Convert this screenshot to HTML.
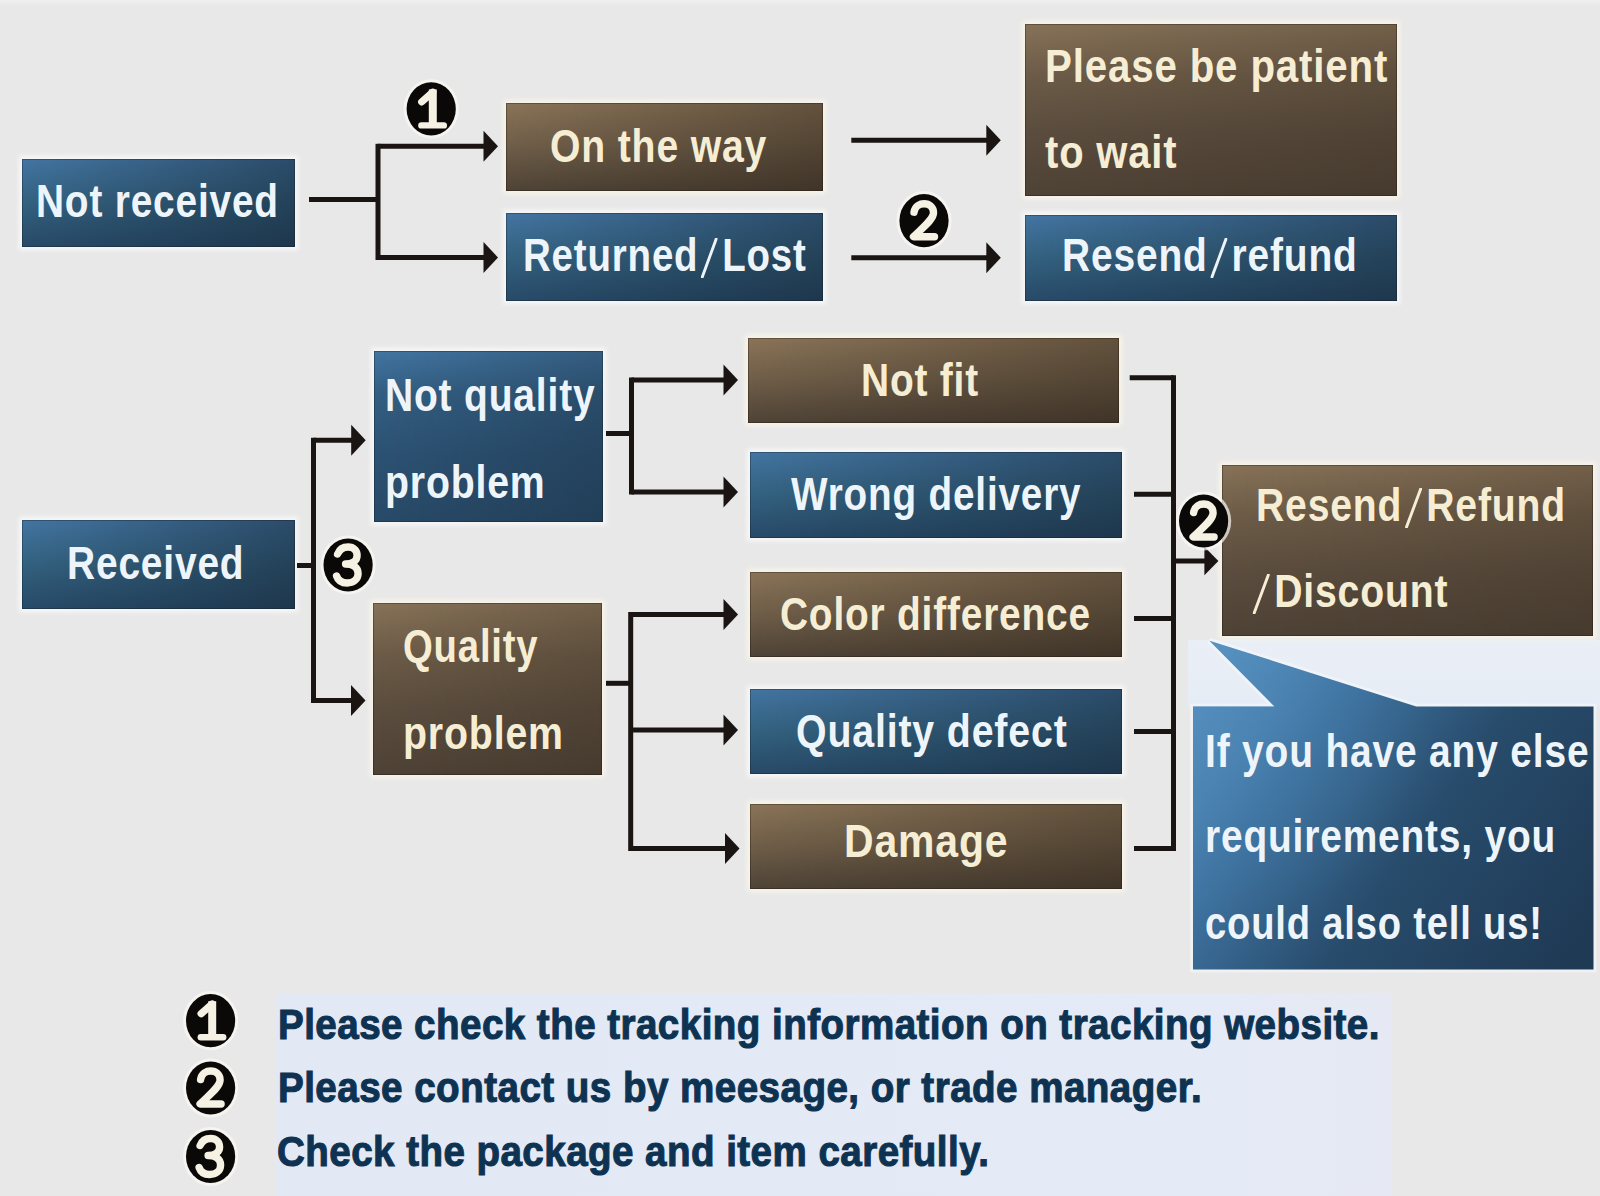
<!DOCTYPE html>
<html><head><meta charset="utf-8"><style>
html,body{margin:0;padding:0;}
body{width:1600px;height:1196px;position:relative;overflow:hidden;background:#e8e8e8;font-family:"Liberation Sans",sans-serif;}
.bx{position:absolute;box-sizing:border-box;}
.bt{background:linear-gradient(90deg,rgba(20,35,50,0),rgba(20,35,50,.3)),linear-gradient(180deg,#4275a2 0,#335e82 25%,#2c5273 60%,#284a68 100%) !important;}
.rt{background:linear-gradient(90deg,rgba(40,30,20,0),rgba(40,30,20,.22)),linear-gradient(180deg,#877258 0,#6c5b47 30%,#5b4d3e 62%,#4e4236 100%) !important;}
.b{background:linear-gradient(90deg,rgba(20,35,50,0),rgba(20,35,50,.5)),linear-gradient(180deg,#4375a2 0,#33617f 50%,#274a68 100%);box-shadow:inset 0 0 0 1px rgba(15,25,35,.35),0 0 5px 3px rgba(255,255,255,.7);}
.r{background:linear-gradient(90deg,rgba(40,30,20,0),rgba(40,30,20,.4)),linear-gradient(180deg,#8a7458 0,#6e5d48 50%,#4e4336 100%);box-shadow:inset 0 0 0 1px rgba(30,20,10,.35),0 0 5px 3px rgba(255,250,235,.7);}
.t{position:absolute;white-space:pre;font-weight:bold;line-height:1;transform-origin:0 0;}
.n{-webkit-text-stroke:1.1px #0e3352;}
svg.sl{display:inline-block;position:static;vertical-align:-7px;}
svg{position:absolute;left:0;top:0;}
</style></head><body>

<div class="bx" style="left:0;top:0;width:1600px;height:6px;background:linear-gradient(180deg,#f0f0f0,#e8e8e8);"></div>
<div class="bx" style="left:275px;top:993px;width:1117px;height:203px;background:linear-gradient(90deg,#e2e9f5,#e4eaf6 85%,#e6e9f3);"></div>
<div class="bx" style="left:1188px;top:640px;width:412px;height:67px;background:linear-gradient(180deg,#eaeff7,#e6ecf5);"></div>
<div class="bx b" style="left:22.0px;top:159.0px;width:273.0px;height:88.0px;"></div>
<div class="bx r" style="left:506.0px;top:102.5px;width:317.0px;height:88.5px;"></div>
<div class="bx b" style="left:506.0px;top:212.5px;width:317.0px;height:88.5px;"></div>
<div class="bx r rt" style="left:1024.5px;top:24.0px;width:372.0px;height:172.0px;"></div>
<div class="bx b" style="left:1024.5px;top:214.5px;width:372.0px;height:86.3px;"></div>
<div class="bx b bt" style="left:373.5px;top:350.5px;width:229.0px;height:171.8px;"></div>
<div class="bx b" style="left:22.0px;top:520.0px;width:273.0px;height:89.0px;"></div>
<div class="bx r rt" style="left:373.3px;top:602.5px;width:229.1px;height:172.0px;"></div>
<div class="bx r" style="left:747.5px;top:337.5px;width:371.5px;height:85.5px;"></div>
<div class="bx b" style="left:749.5px;top:451.5px;width:372.3px;height:86.1px;"></div>
<div class="bx r" style="left:749.5px;top:572.2px;width:372.3px;height:84.8px;"></div>
<div class="bx b" style="left:749.5px;top:688.7px;width:372.3px;height:85.6px;"></div>
<div class="bx r" style="left:749.5px;top:803.6px;width:372.3px;height:85.4px;"></div>
<div class="bx r rt" style="left:1221.5px;top:465.0px;width:371.1px;height:171.0px;"></div>
<svg width="1600" height="1196" viewBox="0 0 1600 1196"><defs><linearGradient id="bg1" gradientUnits="userSpaceOnUse" x1="1200" y1="640" x2="1593" y2="920"><stop offset="0" stop-color="#62a0d0"/><stop offset="0.3" stop-color="#3f74a2"/><stop offset="0.6" stop-color="#284c6c"/><stop offset="1" stop-color="#1f3a55"/></linearGradient><radialGradient id="bg2" gradientUnits="userSpaceOnUse" cx="1205" cy="700" r="230"><stop offset="0" stop-color="#4f88b8" stop-opacity=".6"/><stop offset="0.45" stop-color="#4a82b0" stop-opacity=".25"/><stop offset="1" stop-color="#4a82b0" stop-opacity="0"/></radialGradient></defs><path d="M1209.4 640.7 L1274.5 706.5 L1193 706.5 L1193 969.5 L1593.5 969.5 L1593.5 706.5 L1416.2 706.5 Z" fill="#fbfdff" opacity=".6" transform="translate(0 0)" stroke="#f6f8fb" stroke-width="6" stroke-linejoin="miter"/><path d="M1209.4 640.7 L1274.5 706.5 L1193 706.5 L1193 969.5 L1593.5 969.5 L1593.5 706.5 L1416.2 706.5 Z" fill="url(#bg1)"/><path d="M1209.4 640.7 L1274.5 706.5 L1193 706.5 L1193 969.5 L1593.5 969.5 L1593.5 706.5 L1416.2 706.5 Z" fill="url(#bg2)"/></svg>
<div class="t" style="left:36.00px;top:177.21px;font-size:47px;color:#eef5fa;letter-spacing:1.0px;transform:scaleX(0.8259);">Not received</div>
<div class="t" style="left:549.50px;top:121.61px;font-size:47px;color:#f6eed4;letter-spacing:1.0px;transform:scaleX(0.8331);">On the way</div>
<div class="t" style="left:522.70px;top:230.51px;font-size:47px;color:#eef5fa;letter-spacing:1.0px;transform:scaleX(0.8186);">Returned<svg class="sl" width="21" height="40" viewBox="0 0 21 40" style="margin-left:3px;margin-right:5px"><line x1="2" y1="39" x2="19" y2="1" stroke="currentColor" stroke-width="3.4" stroke-linecap="round"/></svg>Lost</div>
<div class="t" style="left:1045.40px;top:41.91px;font-size:47px;color:#f6eed4;letter-spacing:1.0px;transform:scaleX(0.8560);">Please be patient</div>
<div class="t" style="left:1045.00px;top:128.01px;font-size:47px;color:#f6eed4;letter-spacing:1.0px;transform:scaleX(0.8500);">to wait</div>
<div class="t" style="left:1062.00px;top:231.11px;font-size:47px;color:#eef5fa;letter-spacing:1.0px;transform:scaleX(0.8283);">Resend<svg class="sl" width="21" height="40" viewBox="0 0 21 40" style="margin-left:3px;margin-right:5px"><line x1="2" y1="39" x2="19" y2="1" stroke="currentColor" stroke-width="3.4" stroke-linecap="round"/></svg>refund</div>
<div class="t" style="left:384.60px;top:371.01px;font-size:47px;color:#eef5fa;letter-spacing:1.0px;transform:scaleX(0.8292);">Not quality</div>
<div class="t" style="left:384.60px;top:457.51px;font-size:47px;color:#eef5fa;letter-spacing:1.0px;transform:scaleX(0.8346);">problem</div>
<div class="t" style="left:66.50px;top:539.21px;font-size:47px;color:#eef5fa;letter-spacing:1.0px;transform:scaleX(0.8277);">Received</div>
<div class="t" style="left:402.60px;top:622.41px;font-size:47px;color:#f6eed4;letter-spacing:1.0px;transform:scaleX(0.8145);">Quality</div>
<div class="t" style="left:403.30px;top:709.01px;font-size:47px;color:#f6eed4;letter-spacing:1.0px;transform:scaleX(0.8361);">problem</div>
<div class="t" style="left:861.40px;top:355.91px;font-size:47px;color:#f6eed4;letter-spacing:1.0px;transform:scaleX(0.8268);">Not fit</div>
<div class="t" style="left:791.00px;top:469.61px;font-size:47px;color:#eef5fa;letter-spacing:1.0px;transform:scaleX(0.8236);">Wrong delivery</div>
<div class="t" style="left:779.50px;top:590.21px;font-size:47px;color:#f6eed4;letter-spacing:1.0px;transform:scaleX(0.8259);">Color difference</div>
<div class="t" style="left:795.50px;top:706.61px;font-size:47px;color:#eef5fa;letter-spacing:1.0px;transform:scaleX(0.8361);">Quality defect</div>
<div class="t" style="left:843.60px;top:817.21px;font-size:47px;color:#f6eed4;letter-spacing:1.0px;transform:scaleX(0.8707);">Damage</div>
<div class="t" style="left:1256.00px;top:481.11px;font-size:47px;color:#f6eed4;letter-spacing:1.0px;transform:scaleX(0.8316);">Resend<svg class="sl" width="21" height="40" viewBox="0 0 21 40" style="margin-left:3px;margin-right:5px"><line x1="2" y1="39" x2="19" y2="1" stroke="currentColor" stroke-width="3.4" stroke-linecap="round"/></svg>Refund</div>
<div class="t" style="left:1249.67px;top:567.21px;font-size:47px;color:#f6eed4;letter-spacing:1.0px;transform:scaleX(0.8333);"><svg class="sl" width="21" height="40" viewBox="0 0 21 40" style="margin-left:3px;margin-right:5px"><line x1="2" y1="39" x2="19" y2="1" stroke="currentColor" stroke-width="3.4" stroke-linecap="round"/></svg>Discount</div>
<div class="t" style="left:1204.50px;top:726.51px;font-size:47px;color:#eef5fa;letter-spacing:1.0px;transform:scaleX(0.8283);">If you have any else</div>
<div class="t" style="left:1205.00px;top:812.01px;font-size:47px;color:#eef5fa;letter-spacing:1.0px;transform:scaleX(0.8274);">requirements, you</div>
<div class="t" style="left:1205.00px;top:898.71px;font-size:47px;color:#eef5fa;letter-spacing:1.0px;transform:scaleX(0.8120);">could also tell us!</div>
<div class="t n" style="left:277.80px;top:1003.10px;font-size:43px;color:#0e3352;letter-spacing:0.5px;transform:scaleX(0.8969);">Please check the tracking information on tracking website.</div>
<div class="t n" style="left:278.00px;top:1066.10px;font-size:43px;color:#0e3352;letter-spacing:0.5px;transform:scaleX(0.8976);">Please contact us by meesage, or trade manager.</div>
<div class="t n" style="left:277.00px;top:1129.60px;font-size:43px;color:#0e3352;letter-spacing:0.5px;transform:scaleX(0.8967);">Check the package and item carefully.</div>
<svg width="1600" height="1196" viewBox="0 0 1600 1196"><line x1="309.0" y1="199.5" x2="378.0" y2="199.5" stroke="#1a1512" stroke-width="5"/><line x1="378.0" y1="143.8" x2="378.0" y2="260.0" stroke="#1a1512" stroke-width="5"/><line x1="378.0" y1="146.3" x2="484.5" y2="146.3" stroke="#1a1512" stroke-width="5"/><polygon points="483.5,130.8 498.0,146.3 483.5,161.8" fill="#1a1512"/><line x1="378.0" y1="257.5" x2="484.5" y2="257.5" stroke="#1a1512" stroke-width="5"/><polygon points="483.5,242.0 498.0,257.5 483.5,273.0" fill="#1a1512"/><line x1="851.3" y1="140.2" x2="987.3" y2="140.2" stroke="#1a1512" stroke-width="5"/><polygon points="986.3,124.7 1000.8,140.2 986.3,155.7" fill="#1a1512"/><line x1="851.3" y1="257.7" x2="987.3" y2="257.7" stroke="#1a1512" stroke-width="5"/><polygon points="986.3,242.2 1000.8,257.7 986.3,273.2" fill="#1a1512"/><line x1="297.0" y1="565.5" x2="313.5" y2="565.5" stroke="#1a1512" stroke-width="5"/><line x1="313.5" y1="437.8" x2="313.5" y2="703.1" stroke="#1a1512" stroke-width="5"/><line x1="313.5" y1="440.3" x2="352.2" y2="440.3" stroke="#1a1512" stroke-width="5"/><polygon points="351.2,424.8 365.7,440.3 351.2,455.8" fill="#1a1512"/><line x1="313.5" y1="700.6" x2="352.0" y2="700.6" stroke="#1a1512" stroke-width="5"/><polygon points="351.0,685.1 365.5,700.6 351.0,716.1" fill="#1a1512"/><line x1="606.0" y1="433.5" x2="631.5" y2="433.5" stroke="#1a1512" stroke-width="5"/><line x1="631.5" y1="377.5" x2="631.5" y2="494.5" stroke="#1a1512" stroke-width="5"/><line x1="631.5" y1="380.0" x2="724.5" y2="380.0" stroke="#1a1512" stroke-width="5"/><polygon points="723.5,364.5 738.0,380.0 723.5,395.5" fill="#1a1512"/><line x1="631.5" y1="492.0" x2="724.5" y2="492.0" stroke="#1a1512" stroke-width="5"/><polygon points="723.5,476.5 738.0,492.0 723.5,507.5" fill="#1a1512"/><line x1="606.0" y1="683.3" x2="630.7" y2="683.3" stroke="#1a1512" stroke-width="5"/><line x1="630.7" y1="612.1" x2="630.7" y2="850.9" stroke="#1a1512" stroke-width="5"/><line x1="630.7" y1="614.6" x2="724.5" y2="614.6" stroke="#1a1512" stroke-width="5"/><polygon points="723.5,599.1 738.0,614.6 723.5,630.1" fill="#1a1512"/><line x1="630.7" y1="730.0" x2="724.5" y2="730.0" stroke="#1a1512" stroke-width="5"/><polygon points="723.5,714.5 738.0,730.0 723.5,745.5" fill="#1a1512"/><line x1="630.7" y1="848.4" x2="726.0" y2="848.4" stroke="#1a1512" stroke-width="5"/><polygon points="725.0,832.9 739.5,848.4 725.0,863.9" fill="#1a1512"/><line x1="1129.7" y1="377.7" x2="1173.5" y2="377.7" stroke="#1a1512" stroke-width="5"/><line x1="1134.0" y1="494.2" x2="1173.5" y2="494.2" stroke="#1a1512" stroke-width="5"/><line x1="1134.0" y1="618.5" x2="1173.5" y2="618.5" stroke="#1a1512" stroke-width="5"/><line x1="1134.0" y1="731.5" x2="1173.5" y2="731.5" stroke="#1a1512" stroke-width="5"/><line x1="1134.0" y1="848.4" x2="1173.5" y2="848.4" stroke="#1a1512" stroke-width="5"/><line x1="1173.5" y1="375.2" x2="1173.5" y2="850.9" stroke="#1a1512" stroke-width="5"/><line x1="1173.5" y1="561.0" x2="1205.4" y2="561.0" stroke="#1a1512" stroke-width="5"/><polygon points="1204.4,546.8 1218.4,561.0 1204.4,575.2" fill="#1a1512"/><ellipse cx="431.2" cy="108.9" rx="27.6" ry="29.6" fill="#fbfaf4" opacity=".7"/><ellipse cx="431.2" cy="108.9" rx="24.6" ry="26.6" fill="#0b0908"/><g transform="translate(400.20 78.40)" stroke="#f5f1e3"><path d="M21.5 23.5 L32.5 13.8" stroke-width="7.2" stroke-linecap="round" fill="none"/><path d="M32.6 11 L32.6 46" stroke-width="8" fill="none"/><path d="M21.2 47 L43.6 47" stroke-width="6.4" stroke-linecap="round" fill="none"/></g><ellipse cx="924.0" cy="220.7" rx="27.6" ry="29.6" fill="#fbfaf4" opacity=".7"/><ellipse cx="924.0" cy="220.7" rx="24.6" ry="26.6" fill="#0b0908"/><g transform="translate(893.00 190.20)" stroke="#f5f1e3"><path d="M21 22 C22 15.5 27.5 13.5 31 13.5 C36.5 13.5 40.5 17 40.5 22.5 C40.5 28.5 33 34.5 20.5 46.5 L41.5 46.5" stroke-width="7.4" stroke-linecap="round" stroke-linejoin="round" fill="none"/></g><ellipse cx="348.1" cy="565.0" rx="27.6" ry="29.6" fill="#fbfaf4" opacity=".7"/><ellipse cx="348.1" cy="565.0" rx="24.6" ry="26.6" fill="#0b0908"/><g transform="translate(317.10 534.50)" stroke="#f5f1e3"><path d="M20.5 19.5 C22.5 14.5 27 12.5 31 12.5 C36.5 12.5 40 16 40 21 C40 26 35.5 29.5 28.5 29.5 C36 29.5 41 33 41 39 C41 45 36 48.5 30 48.5 C25 48.5 21 46 19.5 41.5" stroke-width="7.4" stroke-linecap="round" stroke-linejoin="round" fill="none"/></g><ellipse cx="1203.6" cy="521.0" rx="27.6" ry="29.6" fill="#fbfaf4" opacity=".7"/><ellipse cx="1203.6" cy="521.0" rx="24.6" ry="26.6" fill="#0b0908"/><g transform="translate(1172.60 490.50)" stroke="#f5f1e3"><path d="M21 22 C22 15.5 27.5 13.5 31 13.5 C36.5 13.5 40.5 17 40.5 22.5 C40.5 28.5 33 34.5 20.5 46.5 L41.5 46.5" stroke-width="7.4" stroke-linecap="round" stroke-linejoin="round" fill="none"/></g><ellipse cx="210.6" cy="1020.7" rx="27.6" ry="29.6" fill="#fbfaf4" opacity=".7"/><ellipse cx="210.6" cy="1020.7" rx="24.6" ry="26.6" fill="#0b0908"/><g transform="translate(179.60 990.20)" stroke="#f5f1e3"><path d="M21.5 23.5 L32.5 13.8" stroke-width="7.2" stroke-linecap="round" fill="none"/><path d="M32.6 11 L32.6 46" stroke-width="8" fill="none"/><path d="M21.2 47 L43.6 47" stroke-width="6.4" stroke-linecap="round" fill="none"/></g><ellipse cx="210.6" cy="1088.0" rx="27.6" ry="29.6" fill="#fbfaf4" opacity=".7"/><ellipse cx="210.6" cy="1088.0" rx="24.6" ry="26.6" fill="#0b0908"/><g transform="translate(179.60 1057.50)" stroke="#f5f1e3"><path d="M21 22 C22 15.5 27.5 13.5 31 13.5 C36.5 13.5 40.5 17 40.5 22.5 C40.5 28.5 33 34.5 20.5 46.5 L41.5 46.5" stroke-width="7.4" stroke-linecap="round" stroke-linejoin="round" fill="none"/></g><ellipse cx="210.6" cy="1156.5" rx="27.6" ry="29.6" fill="#fbfaf4" opacity=".7"/><ellipse cx="210.6" cy="1156.5" rx="24.6" ry="26.6" fill="#0b0908"/><g transform="translate(179.60 1126.00)" stroke="#f5f1e3"><path d="M20.5 19.5 C22.5 14.5 27 12.5 31 12.5 C36.5 12.5 40 16 40 21 C40 26 35.5 29.5 28.5 29.5 C36 29.5 41 33 41 39 C41 45 36 48.5 30 48.5 C25 48.5 21 46 19.5 41.5" stroke-width="7.4" stroke-linecap="round" stroke-linejoin="round" fill="none"/></g></svg>
</body></html>
